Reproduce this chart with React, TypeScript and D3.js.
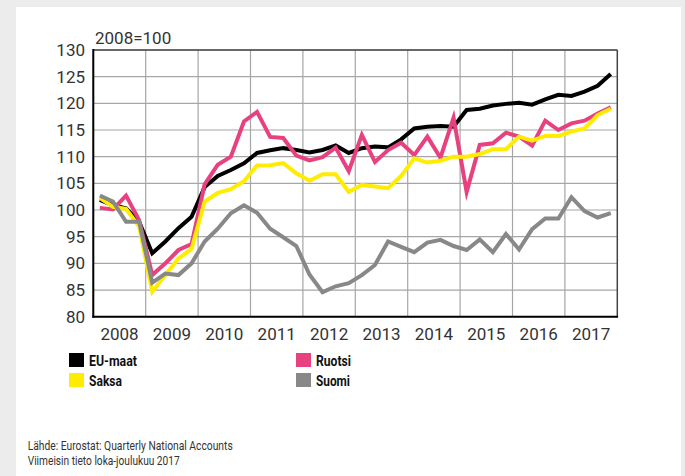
import React from "react";
import * as d3 from "d3";

const years = ["2008", "2009", "2010", "2011", "2012", "2013", "2014", "2015", "2016", "2017"];
const yTicks = [80, 85, 90, 95, 100, 105, 110, 115, 120, 125, 130];

const euMaat = [101.9, 100.9, 100.3, 97.8, 91.9, 94.1, 96.6, 98.75, 104.3, 106.4, 107.5, 108.75, 110.7, 111.2, 111.6, 111.25, 110.8, 111.25, 112.1, 110.7, 111.6, 111.9, 111.75, 113.25, 115.3, 115.6, 115.75, 115.6, 118.75, 119.0, 119.6, 119.9, 120.1, 119.75, 120.75, 121.6, 121.4, 122.2, 123.3, 125.5];
const ruotsi = [100.4, 100.1, 102.7, 98.1, 87.8, 90.0, 92.5, 93.6, 104.8, 108.5, 110.0, 116.6, 118.4, 113.7, 113.5, 110.2, 109.3, 109.9, 111.7, 107.3, 114.1, 109.0, 111.25, 112.6, 110.3, 113.75, 109.8, 117.3, 103.4, 112.2, 112.5, 114.5, 113.75, 112.1, 116.75, 115.0, 116.25, 116.75, 118.1, 119.25];
const saksa = [102.3, 100.6, 100.2, 96.9, 84.7, 87.8, 90.9, 92.7, 101.6, 103.2, 103.9, 105.4, 108.35, 108.4, 108.8, 106.9, 105.5, 106.7, 106.7, 103.4, 104.7, 104.4, 104.1, 106.4, 109.7, 108.9, 109.25, 110.0, 110.0, 110.5, 111.4, 111.4, 113.75, 113.0, 113.9, 113.9, 114.7, 115.3, 117.8, 119.0];
const suomi = [102.7, 101.6, 97.8, 97.8, 86.4, 88.1, 87.8, 90.0, 94.1, 96.5, 99.4, 100.9, 99.5, 96.5, 94.9, 93.25, 87.9, 84.6, 85.7, 86.3, 87.8, 89.7, 94.1, 93.1, 92.1, 93.9, 94.4, 93.25, 92.5, 94.5, 92.1, 95.5, 92.6, 96.4, 98.4, 98.4, 102.4, 99.8, 98.6, 99.4];

const seriesNames = ["EU-maat", "Ruotsi", "Saksa", "Suomi"];
const seriesData = [euMaat, ruotsi, saksa, suomi];
const seriesColors = ["#000000", "#e8417f", "#ffec00", "#888888"];

const W = 685;
const H = 476;
const left = 93.3;
const right = 617.3;
const top = 50;
const bottom = 316.7;
const font = "Roboto, 'DejaVu Sans', sans-serif";

export default function App() {
  const nQ = years.length * 4;
  const x = d3.scaleLinear().domain([0, nQ]).range([left, right]);
  const y = d3.scaleLinear().domain([80, 130]).range([bottom, top]);
  const line = d3
    .line<number>()
    .x((_, i) => x(i + 0.5))
    .y((d) => y(d));

  const legendItems = [
    { name: "EU-maat", color: seriesColors[0], lx: 69, ly: 353, tl: 48 },
    { name: "Ruotsi", color: seriesColors[1], lx: 296, ly: 353, tl: 35 },
    { name: "Saksa", color: seriesColors[2], lx: 69, ly: 373, tl: 33 },
    { name: "Suomi", color: seriesColors[3], lx: 296, ly: 373, tl: 34 },
  ];

  return (
    <svg
      width={W}
      height={H}
      style={{ position: "absolute", left: 0, top: 0, display: "block" }}
      fontFamily={font}
    >
      <rect x={0} y={0} width={W} height={H} fill="#ececec" />
      <rect x={16} y={7} width={665} height={H - 7} fill="#ffffff" />

      {/* horizontal grid */}
      {yTicks.map((t) => (
        <line key={"h" + t} x1={left} x2={right} y1={y(t)} y2={y(t)} stroke="#a6a6a6" strokeWidth={1.2} />
      ))}
      {/* vertical grid */}
      {years.map((yr, k) => (
        <line key={"v" + yr} x1={x(k * 4)} x2={x(k * 4)} y1={top} y2={bottom} stroke="#a6a6a6" strokeWidth={1.2} />
      ))}

      {/* frame */}
      <line x1={left} x2={right} y1={top} y2={top} stroke="#444" strokeWidth={1.5} />
      <line x1={right} x2={right} y1={top} y2={bottom} stroke="#444" strokeWidth={1.5} />

      {/* series */}
      {seriesData.map((d, k) => (
        <path
          key={seriesNames[k]}
          d={line(d) || ""}
          fill="none"
          stroke={seriesColors[k]}
          strokeWidth={4}
          strokeLinejoin="miter"
          strokeMiterlimit={10}
        />
      ))}

      {/* axes */}
      <line x1={left} x2={left} y1={top - 1} y2={bottom + 1} stroke="#000" strokeWidth={2} />
      <line x1={left - 1} x2={right + 0.75} y1={bottom} y2={bottom} stroke="#000" strokeWidth={2} />

      {/* y tick labels */}
      {yTicks.map((t) => (
        <text key={"yl" + t} x={85} y={y(t) + 6} textAnchor="end" fontSize={17} fill="#333">
          {t}
        </text>
      ))}
      {/* x labels */}
      {years.map((yr, k) => (
        <text key={"xl" + yr} x={x(k * 4 + 2)} y={339.5} textAnchor="middle" fontSize={17} fill="#333">
          {yr}
        </text>
      ))}

      <text x={95} y={43.5} fontSize={17} fill="#333">
        2008=100
      </text>

      {/* legend */}
      {legendItems.map((it) => (
        <g key={it.name}>
          <rect x={it.lx} y={it.ly} width={15} height={14} fill={it.color} />
          <text
            x={it.lx + 20}
            y={it.ly + 12.5}
            fontSize={15.5}
            fontWeight="bold"
            fill="#111"
            textLength={it.tl}
            lengthAdjust="spacingAndGlyphs"
          >
            {it.name}
          </text>
        </g>
      ))}

      {/* footer */}
      <text x={27.7} y={450} fontSize={13} fill="#333" textLength={205} lengthAdjust="spacingAndGlyphs">
        Lähde: Eurostat: Quarterly National Accounts
      </text>
      <text x={27.7} y={465} fontSize={13} fill="#333" textLength={152} lengthAdjust="spacingAndGlyphs">
        Viimeisin tieto loka-joulukuu 2017
      </text>
    </svg>
  );
}
